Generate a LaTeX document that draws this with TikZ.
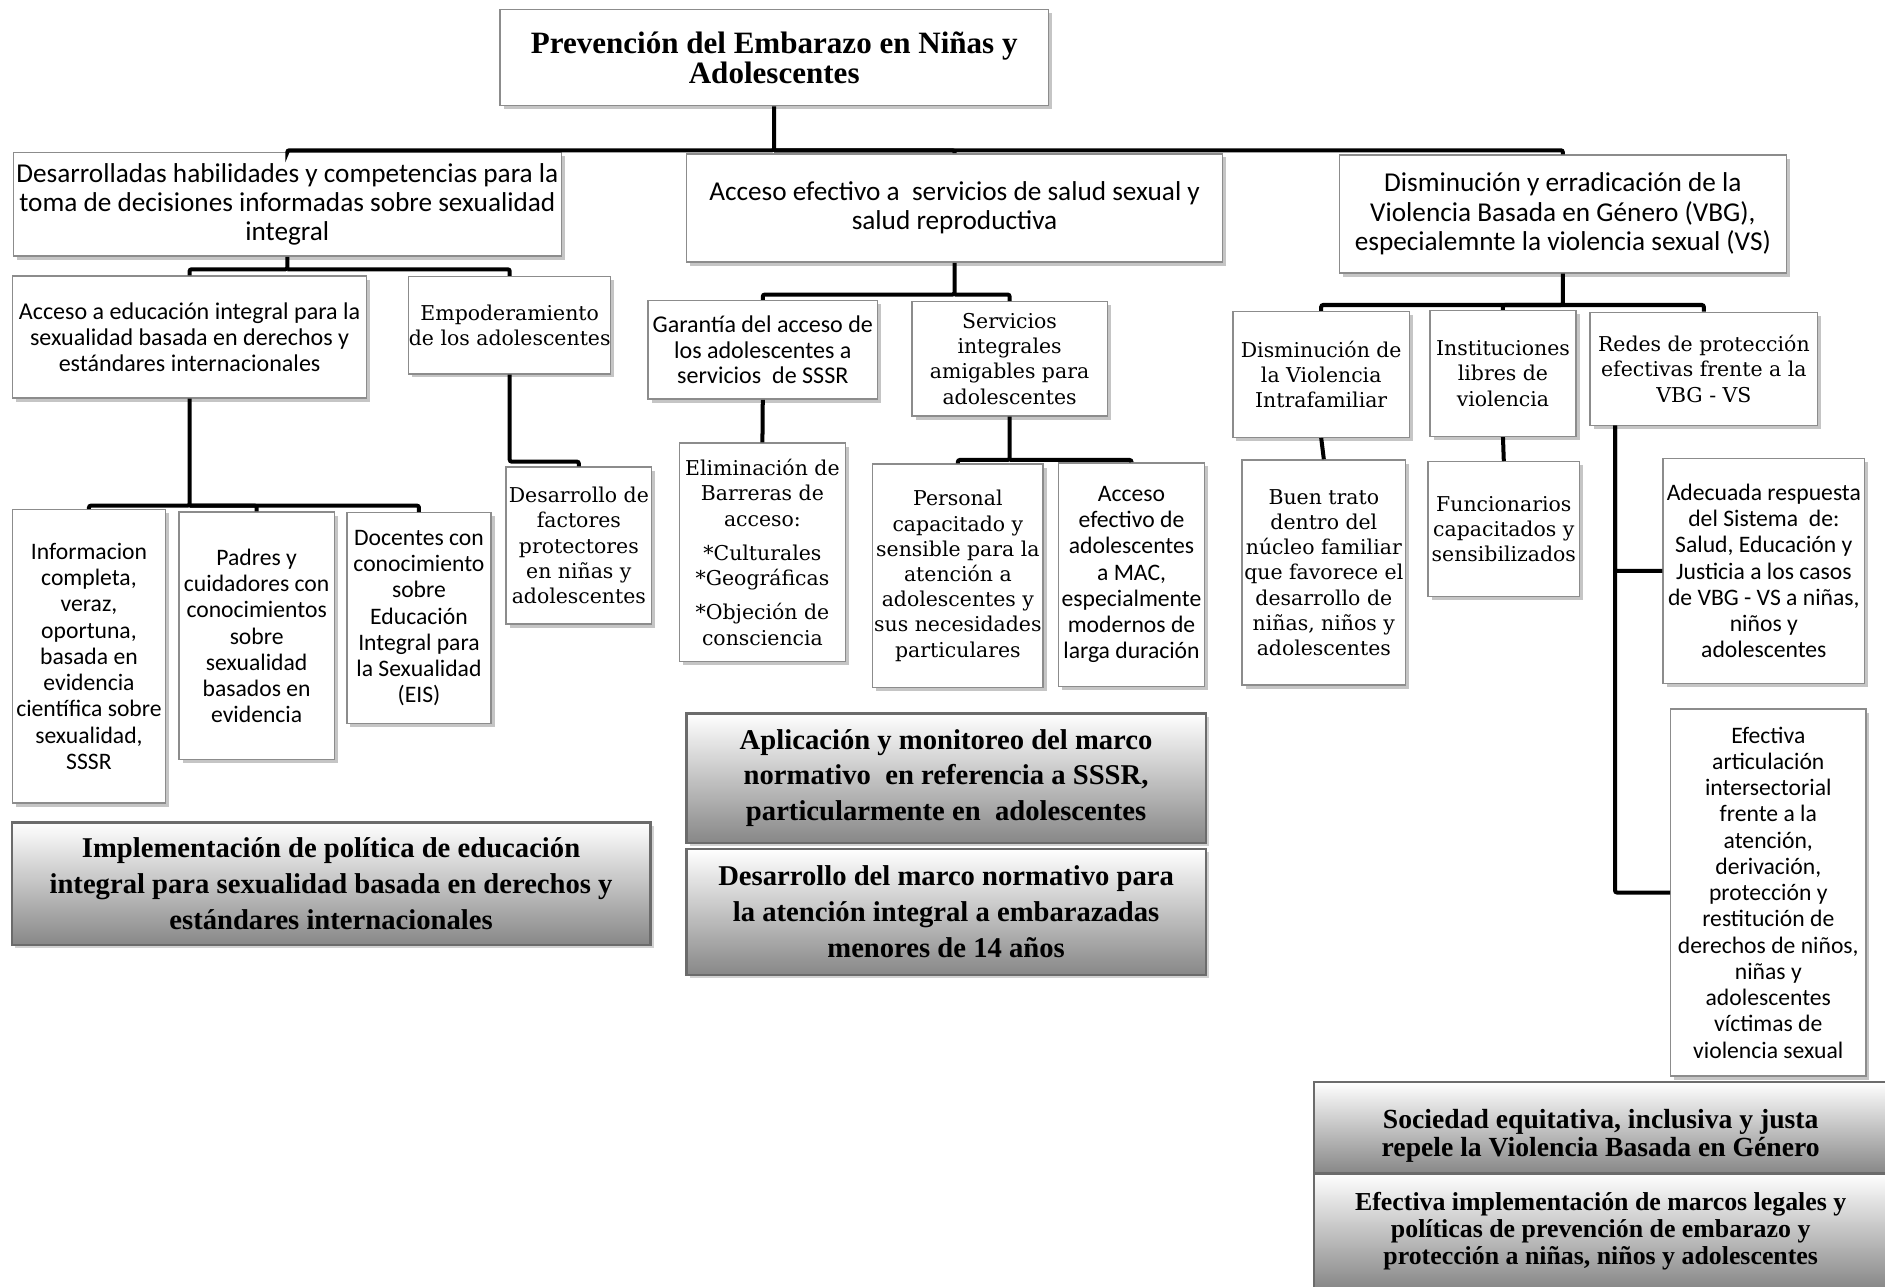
\documentclass[tikz,border=0pt]{standalone}
\usepackage{fontspec}
\setmainfont{Carlito}
\newfontfamily\serf{DejaVu Serif}
\newfontfamily\camb{Liberation Serif}
\usetikzlibrary{shadows}
\newcommand\fTitle{\camb\bfseries\fontsize{15.5}{15}\selectfont}
\newcommand\fHead{\fontsize{13.6}{14.7}\selectfont}
\newcommand\fMid{\fontsize{12}{12.9}\selectfont}
\newcommand\fSmall{\fontsize{11.8}{13.1}\selectfont}
\newcommand\fSer{\serf\fontsize{10.2}{12.6}\selectfont}
\newcommand\fBotA{\camb\bfseries\fontsize{14.3}{17.9}\selectfont}
\newcommand\fBotS{\camb\bfseries\fontsize{13.8}{14.2}\selectfont}
\newcommand\fBotB{\camb\bfseries\fontsize{12.9}{13.5}\selectfont}
\tikzset{
  wb/.style 2 args={draw=black!45, line width=0.7pt, fill=white, align=center, inner sep=0pt,
    minimum width=#1*0.6pt, minimum height=#2*0.6pt,
    drop shadow={opacity=0.45, shadow xshift=1.8pt, shadow yshift=-1.8pt}},
  gb/.style 2 args={draw=black!58, line width=1.2pt, top color=white, bottom color=black!47,
    align=center, inner sep=0pt, minimum width=#1*0.6pt, minimum height=#2*0.6pt,
    drop shadow={opacity=0.35, shadow xshift=1.6pt, shadow yshift=-1.6pt}},
  conn/.style={line width=2pt, rounded corners=1pt},
}
\begin{document}
\begin{tikzpicture}[x=0.6pt, y=-0.6pt]
\useasboundingbox (0,0) rectangle (1568,1070);
\fill[white] (0,0) rectangle (1568,1070);

% level 0
\node[wb={456}{80}, font=\fTitle] (top) at (644,48) {Prevención del Embarazo en Niñas y\\Adolescentes};

% level 1
\node[wb={456}{86}, font=\fHead] (L1) at (239,170) {Desarrolladas habilidades y competencias para la\\toma de decisiones informadas sobre sexualidad\\integral};
\node[wb={446}{90}, font=\fHead] (M1) at (794,173) {Acceso efectivo a\ \ servicios de salud sexual y\\salud reproductiva};
\node[wb={372}{98}, font=\fHead] (R1) at (1300,178) {Disminución y erradicación de la\\Violencia Basada en Género (VBG),\\especialemnte la violencia sexual (VS)};

% left branch
\node[wb={294.6}{101.4}, font=\fMid] (A) at (157.7,280.3) {Acceso a educación integral para la\\sexualidad basada en derechos y\\estándares internacionales};
\node[wb={168}{81}, font=\fSer] (E) at (424,270.5) {Empoderamiento\\de los adolescentes};
\node[wb={127}{244}, font=\fSmall] (Info) at (74,546) {Informacion\\completa,\\veraz,\\oportuna,\\basada en\\evidencia\\científica sobre\\sexualidad,\\SSSR};
\node[wb={129}{206}, font=\fSmall] (Padres) at (213.5,529) {Padres y\\cuidadores con\\conocimientos\\sobre\\sexualidad\\basados en\\evidencia};
\node[wb={120}{175.5}, font=\fSmall] (Doc) at (348.5,514.3) {Docentes con\\conocimiento\\sobre\\Educación\\Integral para\\la Sexualidad\\(EIS)};
\node[wb={121}{130.5}, font=\fSer] (Dfac) at (481.5,453.8) {Desarrollo de\\factores\\protectores\\en niñas y\\adolescentes};

% middle branch
\node[wb={191}{82}, font=\fMid] (Gar) at (634.5,291) {Garantía del acceso de\\los adolescentes a\\servicios\ \ de SSSR};
\node[wb={162.4}{95}, font=\fSer] (Serv) at (839.8,298.5) {Servicios\\integrales\\amigables para\\adolescentes};
\node[wb={138.4}{181.8}, font=\fSer] (Elim) at (634.2,459.5) {Eliminación de\\Barreras de\\acceso:\\[4.5pt]*Culturales\\*Geográficas\\[4.5pt]*Objeción de\\consciencia};
\node[wb={141.6}{186}, font=\fSer] (Pers) at (796.8,479) {Personal\\capacitado y\\sensible para la\\atención a\\adolescentes y\\sus necesidades\\particulares};
\node[wb={121.6}{186}, font=\fSmall] (MAC) at (941.2,478) {Acceso\\efectivo de\\adolescentes\\a MAC,\\especialmente\\modernos de\\larga duración};

% right branch
\node[wb={147}{104.5}, font=\fSer] (DVI) at (1099,311.5) {Disminución de\\la Violencia\\Intrafamiliar};
\node[wb={121.5}{104.6}, font=\fSer] (Inst) at (1250.2,310.7) {Instituciones\\libres de\\violencia};
\node[wb={189.4}{94.2}, font=\fSer] (Redes) at (1417.3,306.9) {Redes de protección\\efectivas frente a la\\VBG - VS};
\node[wb={136.3}{187.2}, font=\fSer] (Buen) at (1101.2,476.2) {Buen trato\\dentro del\\núcleo familiar\\que favorece el\\desarrollo de\\niñas, niños y\\adolescentes};
\node[wb={126.3}{112.3}, font=\fSer] (Func) at (1250.9,440.2) {Funcionarios\\capacitados y\\sensibilizados};
\node[wb={167.7}{187.1}, font=\fSmall] (Adec) at (1467.2,474.9) {Adecuada respuesta\\del Sistema\ \ de:\\Salud, Educación y\\Justicia a los casos\\de VBG - VS a niñas,\\niños y\\adolescentes};
\node[wb={162.3}{305.2}, font=\fSmall] (Efec) at (1470.9,742.4) {Efectiva\\articulación\\intersectorial\\frente a la\\atención,\\derivación,\\protección y\\restitución de\\derechos de niños,\\niñas y\\adolescentes\\víctimas de\\violencia sexual};

% bottom gradient boxes
\node[gb={531.3}{102}, font=\fBotA] (Impl) at (275.4,735) {Implementación de política de educación\\integral para sexualidad basada en derechos y\\estándares internacionales};
\node[gb={432}{107.7}, font=\fBotA] (Aplic) at (787,647.2) {Aplicación y monitoreo del marco\\normativo\ \ en referencia a SSSR,\\particularmente en\ \ adolescentes};
\node[gb={432}{104.8}, font=\fBotA] (DMarco) at (787,758.6) {Desarrollo del marco normativo para\\la atención integral a embarazadas\\menores de 14 años};
\node[gb={477}{76.2}, font=\fBotS] (Soc) at (1331.5,937.9) {\rule{0pt}{18pt}Sociedad equitativa, inclusiva y justa\\repele la Violencia Basada en Género};
\node[gb={477}{96}, font=\fBotB] (EfImp) at (1331.5,1024) {Efectiva implementación de marcos legales y\\políticas de prevención de embarazo y\\protección a niñas, niños y adolescentes};

% connectors
\coordinate (b0) at (644,125);
\draw[conn] (top.south) -- (b0) -| (L1.north);
\draw[conn] (b0) -| (R1.north);
\draw[conn] (b0) -| (M1.north);

\coordinate (bL) at (239,224);
\draw[conn] (L1.south) -- (bL) -| (A.north);
\draw[conn] (bL) -| (E.north);

\coordinate (bA) at (157.7,420.6);
\draw[conn] (A.south) -- (bA) -| (Info.north);
\draw[conn] (bA) -| (Padres.north);
\draw[conn] (bA) -| (Doc.north);

\coordinate (bE) at (424,384);
\draw[conn] (E.south) -- (bE) -| (Dfac.north);

\coordinate (bM) at (794,245);
\draw[conn] (M1.south) -- (bM) -| (Gar.north);
\draw[conn] (bM) -| (Serv.north);
\draw[conn] (Gar.south) -- (Elim.north);

\coordinate (bS) at (839.8,382.6);
\draw[conn] (Serv.south) -- (bS) -| (Pers.north);
\draw[conn] (bS) -| (MAC.north);

\coordinate (bR) at (1300,253.7);
\draw[conn] (R1.south) -- (bR) -| (DVI.north);
\draw[conn] (bR) -| (Inst.north);
\draw[conn] (bR) -| (Redes.north);
\draw[conn] (DVI.south) -- (Buen.north);
\draw[conn] (Inst.south) -- (Func.north);

\coordinate (rd) at (1343.4,354);
\draw[conn] (rd) |- (Efec.west);
\draw[conn] (rd) |- (Adec.west);
\end{tikzpicture}
\end{document}
